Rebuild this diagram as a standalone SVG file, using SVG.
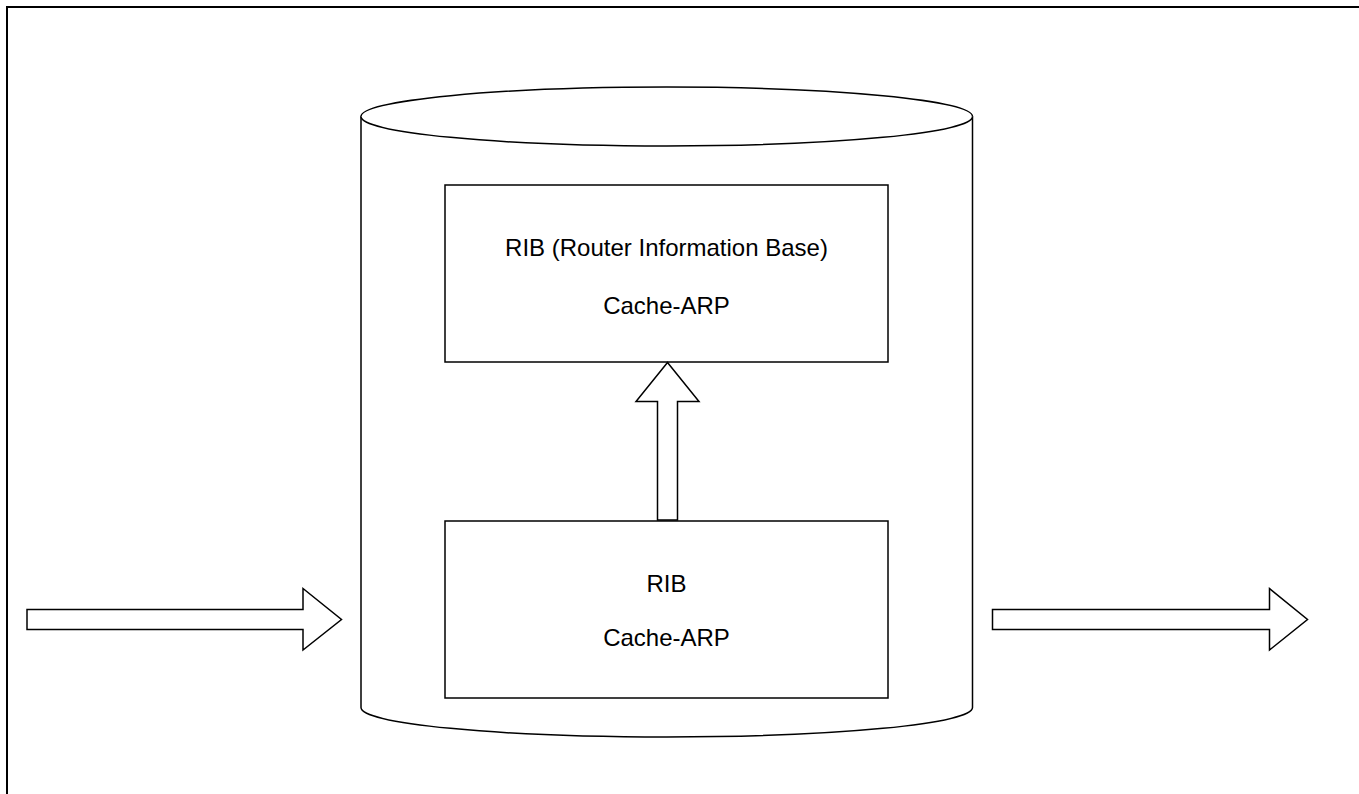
<svg xmlns="http://www.w3.org/2000/svg" width="1359" height="794" viewBox="0 0 1359 794">
<style>
.s{fill:#ffffff;stroke:#000000;stroke-width:1.5}
.t{font-family:"Liberation Sans",Arial,sans-serif;font-size:24px;fill:#000000;text-anchor:middle;dominant-baseline:central}
</style>
<rect x="0" y="0" width="1359" height="794" fill="#ffffff"/>
<g id="frame">
<path d="M7,794 L7,7 L1359,7" fill="none" stroke="#000000" stroke-width="2"/>
</g>
<g id="cylinder">
<path class="s" d="M361,116.5 L361,707.5 A305.75,29.5 0 0 0 972.5,707.5 L972.5,116.5 A305.75,29.5 0 0 0 361,116.5 Z"/>
<path class="s" fill="none" d="M361,116.5 A305.75,29.5 0 0 0 972.5,116.5"/>
</g>
<g id="rib-top">
<rect class="s" x="445" y="185" width="443" height="177"/>
<text class="t" x="666.5" y="247">RIB (Router Information Base)</text>
<text class="t" x="666.5" y="305">Cache-ARP</text>
</g>
<g id="rib-bottom">
<rect class="s" x="445" y="521" width="443" height="177"/>
<text class="t" x="666.5" y="583">RIB</text>
<text class="t" x="666.5" y="637">Cache-ARP</text>
</g>
<g id="connectors">
<path class="s" d="M657.5,520 L657.5,401.5 L636,401.5 L667.5,362.5 L699,401.5 L677.5,401.5 L677.5,520 Z"/>
<path class="s" d="M27,609.5 L303,609.5 L303,588.5 L341.5,619.5 L303,650 L303,629.5 L27,629.5 Z"/>
<path class="s" d="M992.5,609.5 L1269.5,609.5 L1269.5,588.5 L1307.5,619.5 L1269.5,650 L1269.5,629.5 L992.5,629.5 Z"/>
</g>
</svg>
